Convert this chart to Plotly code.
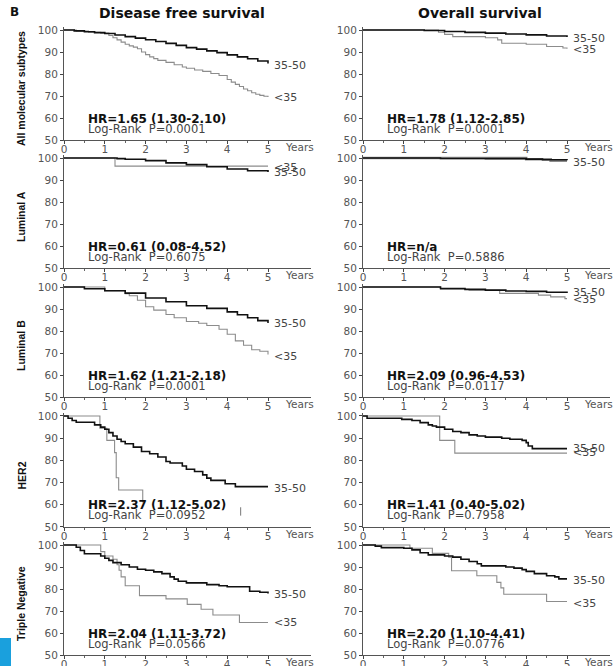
import plotly.graph_objects as go

# ---------------- data ----------------
ROW_NAMES = ["All molecular subtypes", "Luminal A", "Luminal B", "HER2", "Triple Negative"]
COL_TITLES = ["Disease free survival", "Overall survival"]
YEAR_TICKS = [0, 1, 2, 3, 4, 5]
YEAR_MINOR = [0.5, 1.5, 2.5, 3.5, 4.5]
Y_TICKS = [50, 60, 70, 80, 90, 100]
GROUPS = ["35-50", "<35"]

# Row 1: all molecular subtypes
dfs_all_old_t = [0, 0.25, 0.5, 0.75, 1.0, 1.25, 1.5, 1.75, 2.0, 2.25, 2.5, 2.75, 3.0, 3.25, 3.5, 3.75, 4.0, 4.25, 4.5, 4.75, 5.0]
dfs_all_old_s = [100, 99.6, 99.2, 98.8, 98.4, 97.7, 97.0, 96.3, 95.6, 94.8, 93.9, 93.0, 92.0, 91.3, 90.5, 89.7, 88.7, 87.8, 86.9, 85.9, 84.8]
dfs_all_young_t = [0, 0.3, 0.6, 0.9, 1.1, 1.2, 1.3, 1.4, 1.5, 1.6, 1.7, 1.8, 1.9, 2.0, 2.1, 2.2, 2.3, 2.5, 2.7, 2.9, 3.0, 3.2, 3.4, 3.6, 3.8, 4.0, 4.1, 4.2, 4.3, 4.4, 4.5, 4.6, 4.7, 4.8, 4.9, 5.0]
dfs_all_young_s = [100, 99.5, 99.0, 98.6, 97.5, 96.5, 95.5, 94.5, 93.5, 92.8, 92.2, 91.5, 90.0, 88.8, 87.8, 87.0, 86.2, 85.3, 84.2, 83.2, 82.6, 81.8, 81.2, 80.2, 79.3, 77.5, 76.3, 75.3, 74.3, 73.2, 72.4, 71.5, 70.8, 70.3, 69.9, 69.6]
os_all_old_t = [0, 1.5, 2.0, 2.5, 3.0, 3.5, 4.0, 4.5, 5.0]
os_all_old_s = [100, 99.8, 99.3, 98.9, 98.6, 98.2, 97.8, 97.3, 96.8]
os_all_young_t = [0, 1.85, 2.0, 2.2, 3.0, 3.3, 3.4, 4.0, 4.5, 4.9, 5.0]
os_all_young_s = [100, 99.0, 98.0, 97.0, 96.5, 95.5, 94.0, 93.5, 92.5, 91.8, 91.5]

# Row 2: luminal A
dfs_luma_old_t = [0, 1.3, 1.5, 2.0, 2.5, 3.0, 3.5, 4.0, 4.5, 5.0]
dfs_luma_old_s = [100, 99.7, 99.4, 98.8, 97.8, 97.0, 96.0, 95.0, 94.2, 93.6]
dfs_luma_young_t = [0, 1.25, 5.0]
dfs_luma_young_s = [100, 96.3, 96.3]
os_luma_old_t = [0, 1.9, 3.0, 4.0, 4.4, 5.0]
os_luma_old_s = [100, 99.8, 99.7, 99.5, 99.2, 99.0]
os_luma_young_t = [0, 4.0, 4.6, 5.0]
os_luma_young_s = [100, 99.4, 98.8, 98.8]

# Row 3: luminal B
dfs_lumb_old_t = [0, 0.5, 1.0, 1.5, 2.0, 2.5, 3.0, 3.5, 4.0, 4.25, 4.5, 4.75, 5.0]
dfs_lumb_old_s = [100, 99.2, 98.3, 97.2, 95.0, 93.3, 91.5, 90.3, 88.7, 87.4, 86.0, 84.7, 83.6]
dfs_lumb_young_t = [0, 1.0, 1.5, 1.6, 1.8, 2.0, 2.2, 2.5, 2.7, 3.0, 3.3, 3.5, 3.8, 4.0, 4.2, 4.4, 4.6, 4.8, 5.0]
dfs_lumb_young_s = [100, 98.3, 97.0, 96.0, 94.0, 91.0, 89.5, 87.5, 86.0, 84.3, 83.5, 82.5, 80.8, 78.5, 75.5, 73.5, 71.5, 70.8, 69.3]
os_lumb_old_t = [0, 1.9, 2.5, 3.0, 3.5, 4.0, 4.5, 5.0]
os_lumb_old_s = [100, 99.3, 98.9, 98.6, 98.2, 98.0, 97.6, 97.3]
os_lumb_young_t = [0, 1.9, 2.6, 3.35, 4.3, 4.6, 4.95, 5.0]
os_lumb_young_s = [100, 99.0, 98.5, 97.1, 96.3, 95.5, 94.7, 94.7]

# Row 4: HER2
dfs_her2_old_t = [0, 0.1, 0.2, 0.3, 0.75, 0.9, 1.0, 1.1, 1.2, 1.3, 1.4, 1.5, 1.7, 1.9, 2.1, 2.3, 2.5, 2.6, 2.9, 3.0, 3.2, 3.4, 3.5, 3.6, 3.95, 4.2, 5.0]
dfs_her2_old_s = [100, 99.0, 98.0, 97.2, 96.0, 95.0, 94.0, 92.5, 91.0, 89.5, 88.5, 87.5, 86.0, 84.0, 83.0, 81.5, 79.5, 78.8, 77.5, 76.0, 75.0, 73.5, 72.0, 71.0, 69.5, 68.2, 68.2]
dfs_her2_young_t = [0, 0.88, 1.05, 1.24, 1.28, 1.34, 1.93]
dfs_her2_young_s = [100, 94.5, 89.0, 83.5, 72.2, 66.7, 61.0]
dfs_her2_stray_t = [4.33]
dfs_her2_stray_s = [57.0]
os_her2_old_t = [0, 0.1, 0.95, 1.2, 1.4, 1.6, 1.7, 1.8, 2.0, 2.2, 2.4, 2.6, 2.8, 3.0, 3.4, 3.6, 3.9, 4.0, 4.05, 4.15, 5.0]
os_her2_old_s = [100, 99.0, 98.5, 98.0, 97.0, 96.0, 95.5, 95.0, 94.0, 93.0, 92.5, 91.5, 91.0, 90.5, 90.0, 89.5, 89.0, 88.0, 86.5, 85.3, 85.3]
os_her2_young_t = [0, 1.88, 2.25, 5.0]
os_her2_young_s = [100, 89.0, 83.3, 83.3]

# Row 5: triple negative
dfs_tn_old_t = [0, 0.3, 0.4, 0.5, 0.9, 1.0, 1.1, 1.2, 1.4, 1.6, 1.8, 2.0, 2.2, 2.4, 2.6, 2.7, 2.8, 3.0, 3.5, 3.8, 4.0, 4.55, 4.8, 5.0]
dfs_tn_old_s = [100, 99.0, 97.5, 96.0, 95.0, 94.0, 93.0, 92.0, 91.0, 90.0, 89.0, 88.5, 87.8, 87.0, 85.5, 84.5, 83.5, 82.8, 82.0, 81.5, 81.0, 79.0, 78.5, 78.0]
dfs_tn_young_t = [0, 0.9, 1.0, 1.2, 1.3, 1.35, 1.4, 1.5, 1.85, 2.5, 3.02, 3.36, 3.65, 4.3, 5.0]
dfs_tn_young_s = [100, 97.0, 95.0, 93.5, 91.0, 88.5, 85.5, 81.5, 77.0, 75.5, 73.0, 70.8, 68.2, 64.8, 64.8]
os_tn_old_t = [0, 0.3, 0.45, 1.0, 1.2, 1.4, 1.6, 2.0, 2.2, 2.4, 2.6, 2.8, 2.9, 3.5, 3.7, 3.9, 4.0, 4.2, 4.5, 4.7, 4.8, 5.0]
os_tn_old_s = [100, 99.5, 98.8, 98.5, 97.8, 96.5, 95.5, 95.0, 94.5, 93.5, 92.5, 91.5, 90.5, 90.0, 89.5, 88.8, 88.0, 87.0, 86.0, 85.5, 84.6, 84.6]
os_tn_young_t = [0, 1.15, 1.7, 2.1, 2.17, 2.79, 3.28, 3.38, 3.45, 4.5, 5.0]
os_tn_young_s = [100, 98.5, 96.2, 94.5, 88.3, 86.0, 83.0, 80.5, 77.6, 74.3, 74.3]

HR_TEXT = [
    ["HR=1.65 (1.30-2.10)", "HR=1.78 (1.12-2.85)"],
    ["HR=0.61 (0.08-4.52)", "HR=n/a"],
    ["HR=1.62 (1.21-2.18)", "HR=2.09 (0.96-4.53)"],
    ["HR=2.37 (1.12-5.02)", "HR=1.41 (0.40-5.02)"],
    ["HR=2.04 (1.11-3.72)", "HR=2.20 (1.10-4.41)"],
]
P_TEXT = [
    ["Log-Rank  P=0.0001", "Log-Rank  P=0.0001"],
    ["Log-Rank  P=0.6075", "Log-Rank  P=0.5886"],
    ["Log-Rank  P=0.0001", "Log-Rank  P=0.0117"],
    ["Log-Rank  P=0.0952", "Log-Rank  P=0.7958"],
    ["Log-Rank  P=0.0566", "Log-Rank  P=0.0776"],
]

CURVES = [
    [((dfs_all_old_t, dfs_all_old_s), (dfs_all_young_t, dfs_all_young_s)),
     ((os_all_old_t, os_all_old_s), (os_all_young_t, os_all_young_s))],
    [((dfs_luma_old_t, dfs_luma_old_s), (dfs_luma_young_t, dfs_luma_young_s)),
     ((os_luma_old_t, os_luma_old_s), (os_luma_young_t, os_luma_young_s))],
    [((dfs_lumb_old_t, dfs_lumb_old_s), (dfs_lumb_young_t, dfs_lumb_young_s)),
     ((os_lumb_old_t, os_lumb_old_s), (os_lumb_young_t, os_lumb_young_s))],
    [((dfs_her2_old_t, dfs_her2_old_s), (dfs_her2_young_t, dfs_her2_young_s)),
     ((os_her2_old_t, os_her2_old_s), (os_her2_young_t, os_her2_young_s))],
    [((dfs_tn_old_t, dfs_tn_old_s), (dfs_tn_young_t, dfs_tn_young_s)),
     ((os_tn_old_t, os_tn_old_s), (os_tn_young_t, os_tn_young_s))],
]

# curve end labels: (text, y value)
END_LABELS = [
    [[("35-50", 84.0), ("<35", 69.5)], [("35-50", 96.2), ("<35", 91.2)]],
    [[("<35", 95.9), ("35-50", 93.4)], [("35-50", 97.8)]],
    [[("35-50", 83.6), ("<35", 68.6)], [("35-50", 97.4), ("<35", 94.4)]],
    [[("35-50", 67.5)], [("35-50", 85.4), ("<35", 83.5)]],
    [[("35-50", 77.7), ("<35", 65.0)], [("35-50", 84.0), ("<35", 73.6)]],
]

# ---------------- layout geometry (pixels) ----------------
W, H = 616, 666
ROW_PIX = [(30, 140), (158, 268), (287, 397), (416, 527), (545, 655)]  # (y=100, y=50)
COL_X0 = [64, 363]
PX_PER_YEAR = 40.8
X_MAX = 6.05
Y_TOP = 101.2

FONT = "DejaVu Sans"
BLACK = "#111111"
GREY = "#8c8c8c"
TICK_COL = "#555555"

fig = go.Figure()
layout = dict(
    width=W, height=H, margin=dict(l=0, r=0, t=0, b=0, pad=0, autoexpand=False),
    paper_bgcolor="white", plot_bgcolor="white", showlegend=False,
    font=dict(family=FONT, size=11, color="#333"),
)
annotations = []
shapes = []

for r in range(5):
    top100, bot50 = ROW_PIX[r]
    ppu = (bot50 - top100) / 50.0
    top_pix = top100 - (Y_TOP - 100) * ppu
    for c in range(2):
        idx = r * 2 + c + 1
        xa = "x" if idx == 1 else f"x{idx}"
        ya = "y" if idx == 1 else f"y{idx}"
        x0 = COL_X0[c]
        x1 = x0 + X_MAX * PX_PER_YEAR
        layout["xaxis" if idx == 1 else f"xaxis{idx}"] = dict(
            domain=[x0 / W, x1 / W], range=[0, X_MAX], anchor=ya,
            tickvals=YEAR_TICKS, ticktext=[str(v) for v in YEAR_TICKS],
            ticks="outside", ticklen=3, tickcolor="#444", tickwidth=1,
            minor=dict(tickvals=YEAR_MINOR, ticks="outside", ticklen=2, tickcolor="#666"),
            showline=True, linecolor="#555", linewidth=1, showgrid=False, zeroline=False,
            ticklabelstandoff=-4,
            tickfont=dict(family=FONT, size=10.5, color=TICK_COL),
        )
        layout["yaxis" if idx == 1 else f"yaxis{idx}"] = dict(
            domain=[1 - bot50 / H, 1 - top_pix / H], range=[50, Y_TOP], anchor=xa,
            tickvals=Y_TICKS, ticks="outside", ticklen=3, tickcolor="#444",
            showline=True, linecolor="#555", linewidth=1, showgrid=False, zeroline=False,
            tickfont=dict(family=FONT, size=10.5, color=TICK_COL),
        )
        (ot, os_), (yt, ys) = CURVES[r][c]
        ywidth = 2.6 if (r == 1 and c == 1) else 1.1
        fig.add_trace(go.Scatter(x=yt, y=ys, mode="lines", line=dict(color=GREY, width=ywidth, shape="hv"),
                                 xaxis=xa, yaxis=ya, name="<35", cliponaxis=True))
        fig.add_trace(go.Scatter(x=ot, y=os_, mode="lines", line=dict(color=BLACK, width=1.6, shape="hv"),
                                 xaxis=xa, yaxis=ya, name="35-50", cliponaxis=True))
        if r == 3 and c == 0:
            fig.add_trace(go.Scatter(x=dfs_her2_stray_t, y=dfs_her2_stray_s, mode="markers",
                                     marker=dict(symbol="line-ns", size=6, line=dict(color="#777", width=1)),
                                     xaxis=xa, yaxis=ya))
        # HR + log-rank text
        annotations.append(dict(x=0.55, y=59.7, xref=xa, yref=ya, text=f"<b>{HR_TEXT[r][c]}</b>",
                                showarrow=False, xanchor="left", yanchor="middle",
                                font=dict(family=FONT, size=12, color="#111")))
        annotations.append(dict(x=0.55, y=55.2, xref=xa, yref=ya, text=P_TEXT[r][c],
                                showarrow=False, xanchor="left", yanchor="middle",
                                font=dict(family=FONT, size=11.5, color="#444")))
        for txt, yv in END_LABELS[r][c]:
            annotations.append(dict(x=5.1, y=yv, xref=xa, yref=ya, text=txt, showarrow=False,
                                    xanchor="left", yanchor="middle",
                                    font=dict(family=FONT, size=11, color="#444")))
        # "Years" label on x axis
        annotations.append(dict(x=5.78, y=1 - (bot50 + 7) / H, xref=xa, yref="paper", text="Years",
                                showarrow=False, xanchor="center", yanchor="middle",
                                font=dict(family=FONT, size=10.5, color=TICK_COL)))
    # row label
    annotations.append(dict(x=21 / W, y=1 - ((top100 + bot50) / 2 + 4) / H, xref="paper", yref="paper",
                            text=f"<b>{ROW_NAMES[r]}</b>", textangle=-90, showarrow=False,
                            xanchor="center", yanchor="middle",
                            font=dict(family="Liberation Sans, Arial", size=10.5, color="#111")))

# column titles
annotations.append(dict(x=182 / W, y=1 - 13 / H, xref="paper", yref="paper", text=f"<b>{COL_TITLES[0]}</b>",
                        showarrow=False, xanchor="center", yanchor="middle",
                        font=dict(family=FONT, size=14, color="#111")))
annotations.append(dict(x=480 / W, y=1 - 13 / H, xref="paper", yref="paper", text=f"<b>{COL_TITLES[1]}</b>",
                        showarrow=False, xanchor="center", yanchor="middle",
                        font=dict(family=FONT, size=14, color="#111")))
annotations.append(dict(x=8 / W, y=1 - 12 / H, xref="paper", yref="paper", text="<b>B</b>",
                        showarrow=False, xanchor="left", yanchor="middle",
                        font=dict(family=FONT, size=12, color="#111")))

shapes.append(dict(type="rect", xref="paper", yref="paper", x0=0, x1=11 / W, y0=0, y1=1 - 638 / H,
                   fillcolor="#1aa0dd", line=dict(width=0), layer="above"))

layout["annotations"] = annotations
layout["shapes"] = shapes
fig.update_layout(**layout)
fig.write_html("out.html", config={"displayModeBar": False},
               post_script="document.body.style.margin='0';document.body.style.overflow='hidden';")
